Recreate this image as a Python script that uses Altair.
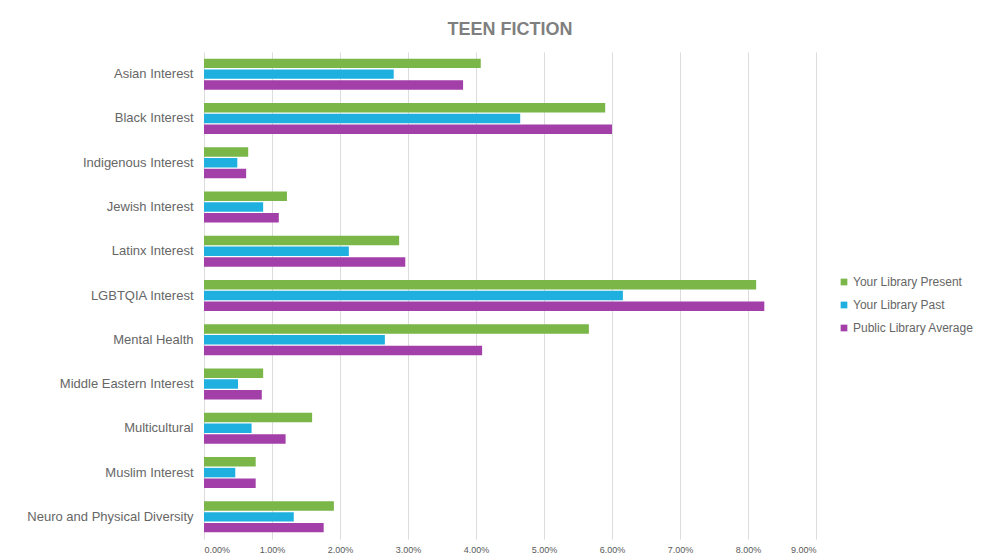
import altair as alt
import pandas as pd

categories = [
    "Asian Interest", "Black Interest", "Indigenous Interest", "Jewish Interest",
    "Latinx Interest", "LGBTQIA Interest", "Mental Health", "Middle Eastern Interest",
    "Multicultural", "Muslim Interest", "Neuro and Physical Diversity",
]
series = ["Your Library Present", "Your Library Past", "Public Library Average"]
colors = ["#7ab648", "#1fb0e0", "#a23fa9"]

present = [4.07, 5.90, 0.65, 1.22, 2.87, 8.12, 5.66, 0.87, 1.59, 0.76, 1.91]
past = [2.79, 4.65, 0.49, 0.87, 2.13, 6.16, 2.66, 0.50, 0.70, 0.46, 1.32]
average = [3.81, 6.00, 0.62, 1.10, 2.96, 8.24, 4.09, 0.85, 1.20, 0.76, 1.76]

rows = []
for vals, s in zip([present, past, average], series):
    for c, v in zip(categories, vals):
        rows.append({"Category": c, "Series": s, "Value": v / 100})
df = pd.DataFrame(rows)

chart = (
    alt.Chart(df)
    .mark_bar()
    .encode(
        y=alt.Y(
            "Category:N",
            sort=categories,
            title=None,
            scale=alt.Scale(paddingInner=0.3, paddingOuter=0.15),
            axis=alt.Axis(
                ticks=False, domain=False, grid=False, labelFontSize=13,
                labelColor="#666666", labelFont="Liberation Sans", labelPadding=11,
                minExtent=191, maxExtent=191,
            ),
        ),
        yOffset=alt.YOffset("Series:N", sort=series, scale=alt.Scale(paddingInner=0.12)),
        x=alt.X(
            "Value:Q",
            title=None,
            scale=alt.Scale(domain=[0, 0.09], nice=False),
            axis=alt.Axis(
                format=".2%", values=[i / 100 for i in range(10)], ticks=False,
                domain=False, labelFontSize=9, labelColor="#595959",
                labelFont="Liberation Sans", gridColor="#dcdcdc", labelPadding=6,
            ),
        ),
        color=alt.Color(
            "Series:N",
            sort=series,
            scale=alt.Scale(domain=series, range=colors),
            legend=alt.Legend(
                title=None, orient="none", legendX=634, legendY=224,
                symbolType="square", symbolSize=45, labelFontSize=12,
                labelColor="#666666", labelFont="Liberation Sans", rowPadding=11,
                symbolStrokeWidth=0, labelOffset=3,
            ),
        ),
    )
    .properties(
        width=612,
        height=487,
        title=alt.TitleParams(
            "TEEN FICTION", fontSize=18, font="Liberation Sans", fontWeight="bold",
            color="#7f7f7f", anchor="middle", offset=13,
        ),
        padding={"top": 13, "left": 5, "right": 5, "bottom": 5},
        background="white",
    )
    .configure_view(stroke="transparent", strokeWidth=0)
)

chart.save("out.html", embed_options={"renderer": "svg", "actions": False})
